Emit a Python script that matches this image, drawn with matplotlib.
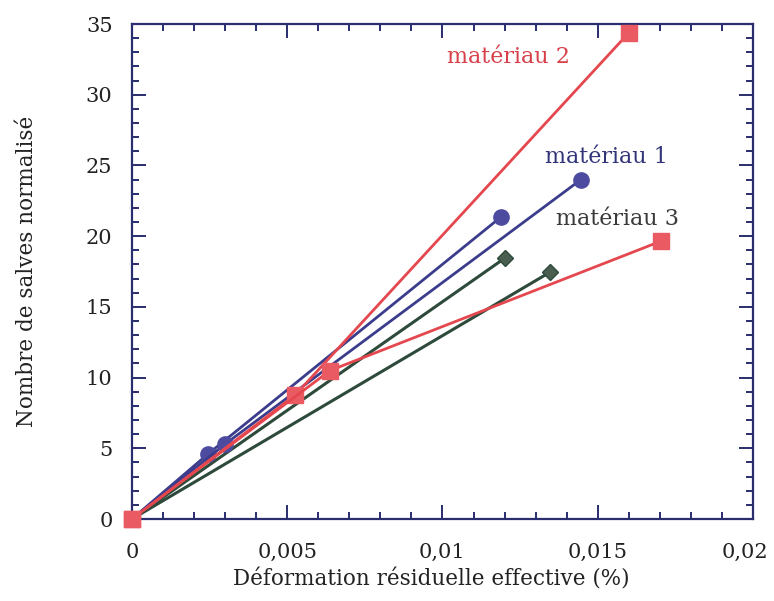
import matplotlib
matplotlib.use("Agg")

import matplotlib.pyplot as plt
import matplotlib.transforms as mtransforms
from matplotlib.ticker import MultipleLocator

# data
m1_a_x = [0, 0.00245, 0.01188]
m1_a_y = [0, 4.6, 21.35]
m1_b_x = [0, 0.0030, 0.01446]
m1_b_y = [0, 5.3, 24.0]

m2_a_x = [0, 0.00525, 0.01601]
m2_a_y = [0, 8.75, 34.4]
m2_b_x = [0, 0.00638, 0.01704]
m2_b_y = [0, 10.5, 19.65]

m3_a_x = [0, 0.01201]
m3_a_y = [0, 18.45]
m3_b_x = [0, 0.01346]
m3_b_y = [0, 17.45]

x_ticks = [0, 0.005, 0.01, 0.015, 0.02]
x_tick_labels = ["0", "0,005", "0,01", "0,015", "0,02"]
y_ticks = [0, 5, 10, 15, 20, 25, 30, 35]

NAVY = "#2a2d6e"
BLUE = "#3b3c8c"
RED = "#e5474f"
GREEN = "#2e4a3b"
INK = "#222222"

plt.rcParams["font.family"] = ["DejaVu Serif"]

fig = plt.figure(figsize=(7.74, 6.01), dpi=100)
ax = fig.add_axes([0.1705, 0.1364, 0.8023, 0.8236])

for xs, ys in [(m3_a_x, m3_a_y), (m3_b_x, m3_b_y)]:
    ax.plot(xs, ys, color=GREEN, lw=2.2, marker="D", ms=8.5,
            markerfacecolor="#4a5e50", markeredgecolor=GREEN, zorder=3)

for xs, ys in [(m1_a_x, m1_a_y), (m1_b_x, m1_b_y)]:
    ax.plot(xs, ys, color=BLUE, lw=2.0, marker="o", ms=11,
            markerfacecolor="#4c4ba0", markeredgecolor="#4c4ba0", zorder=4)

for xs, ys in [(m2_a_x, m2_a_y), (m2_b_x, m2_b_y)]:
    ax.plot(xs, ys, color=RED, lw=2.0, marker="s", ms=12,
            markerfacecolor="#ea5a62", markeredgecolor="#ea5a62", zorder=5,
            clip_on=False)

ax.text(0.01211, 32.7, "matériau 2", color="#d8404a", fontsize=16,
        ha="center", va="center")
ax.text(0.01528, 25.6, "matériau 1", color="#33357a", fontsize=16,
        ha="center", va="center")
ax.text(0.01564, 21.2, "matériau 3", color="#3a3a3a", fontsize=16,
        ha="center", va="center")

ax.set_xlim(0, 0.02)
ax.set_ylim(0, 35)
ax.set_xticks(x_ticks)
ax.set_xticklabels(x_tick_labels)
ax.set_yticks(y_ticks)
ax.xaxis.set_minor_locator(MultipleLocator(0.001))
ax.yaxis.set_minor_locator(MultipleLocator(1))

ax.tick_params(which="both", direction="in", top=True, right=True,
               color=NAVY, width=1.4, labelsize=15, labelcolor=INK)
ax.tick_params(which="major", length=10)
ax.tick_params(axis="x", which="major", pad=17)
ax.tick_params(axis="y", which="major", pad=14)
ax.tick_params(which="minor", length=5)

# last x label sits a little left of its tick in the original
last = ax.get_xticklabels()[-1]
last.set_transform(last.get_transform() +
                   mtransforms.ScaledTranslation(-6 / 72, 0, fig.dpi_scale_trans))

for sp in ax.spines.values():
    sp.set_color(NAVY)
    sp.set_linewidth(1.6)

ax.set_xlabel("Déformation résiduelle effective (%)", fontsize=15.5, color=INK)
ax.set_ylabel("Nombre de salves normalisé", fontsize=15.5, color=INK)
ax.xaxis.set_label_coords(0.482, -0.099)
ax.yaxis.set_label_coords(-0.152, 0.5)

fig.savefig("out.png", dpi=100)
